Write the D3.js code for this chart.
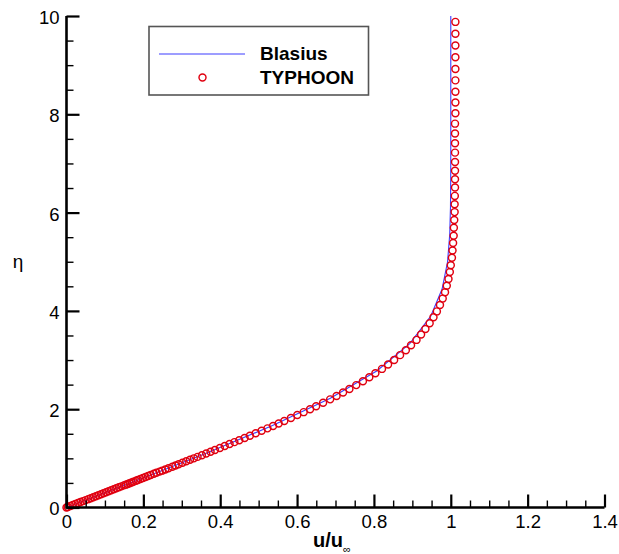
<!DOCTYPE html>
<html>
<head>
<meta charset="utf-8">
<script src="https://cdn.jsdelivr.net/npm/d3@7"></script>
<style>
  html, body { margin: 0; padding: 0; background: #fff; }
  svg { display: block; }
</style>
</head>
<body>
<svg id="chart" width="619" height="554"></svg>
<script>
// ---- data ----
const xTicks = [0, 0.2, 0.4, 0.6, 0.8, 1, 1.2, 1.4];
const xTickLabels = ["0", "0.2", "0.4", "0.6", "0.8", "1", "1.2", "1.4"];
const yTicks = [0, 2, 4, 6, 8, 10];
const yTickLabels = ["0", "2", "4", "6", "8", "10"];

// Blasius reference solution (u/u_inf vs eta)
const blasiusEta = [0, 0.5556, 1.1111, 1.6667, 2.2222, 2.7778, 3.3333, 3.8889, 4.4444, 5.0,
  5.5556, 6.1111, 6.6667, 7.2222, 7.7778, 8.3333, 8.8889, 9.4444, 10];
const blasiusU = [0, 0.1843, 0.3653, 0.5361, 0.6866, 0.8072, 0.8932, 0.9475, 0.9774, 0.9916,
  0.9972, 0.9992, 0.9998, 1.0, 1.0, 1.0, 1.0, 1.0, 1.0];

// TYPHOON solution points
const typhoonEta = [9.88, 9.64, 9.40, 9.16, 8.92, 8.69, 8.46, 8.24, 8.02, 7.81,
  7.61, 7.41, 7.22, 7.03, 6.85, 6.68, 6.51, 6.34, 6.17, 6.01,
  5.85, 5.69, 5.53, 5.38, 5.23, 5.08, 4.93, 4.79, 4.65, 4.51,
  4.38, 4.25, 4.12, 3.99, 3.87, 3.75, 3.63, 3.52, 3.41, 3.30,
  3.20, 3.10, 3.00, 2.91, 2.82, 2.73, 2.65, 2.57, 2.49, 2.41,
  2.34, 2.27, 2.20, 2.13, 2.06, 2.00, 1.94, 1.88, 1.82, 1.76,
  1.71, 1.66, 1.61, 1.56, 1.51, 1.46, 1.415, 1.37, 1.33, 1.29,
  1.25, 1.21, 1.17, 1.135, 1.10, 1.065, 1.03, 1.00, 0.97, 0.94,
  0.91, 0.88, 0.855, 0.83, 0.80, 0.775, 0.75, 0.73, 0.705, 0.685,
  0.66, 0.64, 0.62, 0.60, 0.58, 0.56, 0.545, 0.525, 0.51, 0.495,
  0.48, 0.465, 0.45, 0.43, 0.41, 0.39, 0.37, 0.35, 0.33, 0.31,
  0.29, 0.27, 0.25, 0.23, 0.21, 0.19, 0.17, 0.15, 0.13, 0.11,
  0.09, 0.07, 0.05, 0.03, 0.01, 0.0];
const typhoonU = [1.012, 1.012, 1.012, 1.012, 1.012, 1.012, 1.012, 1.012, 1.012, 1.011,
  1.011, 1.011, 1.011, 1.011, 1.011, 1.011, 1.011, 1.0105, 1.010, 1.010,
  1.009, 1.008, 1.0075, 1.006, 1.0045, 1.003, 1.000, 0.9975, 0.994, 0.9896,
  0.985, 0.979, 0.9719, 0.9638, 0.955, 0.945, 0.934, 0.9227, 0.9108, 0.8966,
  0.8831, 0.8680, 0.8526, 0.8368, 0.8210, 0.8038, 0.7880, 0.7714, 0.7540, 0.7362,
  0.7197, 0.7028, 0.6861, 0.6678, 0.6496, 0.6338, 0.6172, 0.6006, 0.5840, 0.5667,
  0.5521, 0.5375, 0.5229, 0.5077, 0.4924, 0.4772, 0.4635, 0.4495, 0.4369, 0.4243,
  0.4117, 0.3991, 0.3862, 0.3749, 0.3636, 0.3523, 0.3410, 0.3313, 0.3214, 0.3116,
  0.3017, 0.2918, 0.2836, 0.2754, 0.2655, 0.2572, 0.2489, 0.2422, 0.2339, 0.2272,
  0.2190, 0.2123, 0.2057, 0.1990, 0.1923, 0.1857, 0.1808, 0.1741, 0.1692, 0.1642,
  0.1593, 0.1543, 0.1493, 0.1427, 0.1361, 0.1295, 0.1229, 0.1162, 0.1096, 0.1029,
  0.0963, 0.0897, 0.0830, 0.0764, 0.0697, 0.0631, 0.0565, 0.0498, 0.0432, 0.0365,
  0.0299, 0.0232, 0.0166, 0.0100, 0.0033, 0.0];

const legendLabels = ["Blasius", "TYPHOON"];

// ---- drawing ----
const svg = d3.select("#chart");
const x = d3.scaleLinear().domain([0, 1.4]).range([66.5, 604.5]);
const y = d3.scaleLinear().domain([0, 10]).range([507.5, 16]);

const blueCol = "#3c3cff";
const redCol = "#e00010";
const fontFam = "'Liberation Sans', Arial, Helvetica, sans-serif";

// Blasius line
const blasius = blasiusEta.map((e, i) => ({ eta: e, u: blasiusU[i] }));
svg.append("path")
  .datum(blasius)
  .attr("fill", "none")
  .attr("stroke", blueCol)
  .attr("stroke-width", 1.1)
  .attr("d", d3.line().x(d => x(d.u)).y(d => y(d.eta)));

// TYPHOON circles
const typhoon = typhoonEta.map((e, i) => ({ eta: e, u: typhoonU[i] }));
svg.append("g").selectAll("circle")
  .data(typhoon)
  .join("circle")
  .attr("cx", d => x(d.u))
  .attr("cy", d => y(d.eta))
  .attr("r", 3.5)
  .attr("fill", "none")
  .attr("stroke", redCol)
  .attr("stroke-width", 1.45);

// Axes: minor ticks
const xMinor = d3.range(0, 1.4001, 0.05).filter(v => Math.abs(v / 0.2 - Math.round(v / 0.2)) > 1e-6);
const yMinor = d3.range(0, 10.001, 0.5).filter(v => Math.abs(v / 2 - Math.round(v / 2)) > 1e-6);

const gxMinor = svg.append("g").attr("transform", `translate(0,${y(0)})`)
  .call(d3.axisBottom(x).tickValues(xMinor).tickSize(-7).tickFormat(""));
const gyMinor = svg.append("g").attr("transform", `translate(${x(0)},0)`)
  .call(d3.axisLeft(y).tickValues(yMinor).tickSize(-7).tickFormat(""));
[gxMinor, gyMinor].forEach(g => {
  g.select(".domain").remove();
  g.selectAll(".tick line").attr("stroke", "#000").attr("stroke-width", 1.4);
});

// Major ticks with labels
const gx = svg.append("g").attr("transform", `translate(0,${y(0)})`)
  .call(d3.axisBottom(x).tickValues(xTicks).tickSize(-13).tickPadding(6)
    .tickFormat((d, i) => xTickLabels[i]));
const gy = svg.append("g").attr("transform", `translate(${x(0)},0)`)
  .call(d3.axisLeft(y).tickValues(yTicks).tickSize(-13).tickPadding(7)
    .tickFormat((d, i) => yTickLabels[i]));
[gx, gy].forEach(g => {
  g.select(".domain").remove();
  g.selectAll(".tick line").attr("stroke", "#000").attr("stroke-width", 2.2);
  g.selectAll(".tick text")
    .attr("fill", "#000")
    .style("font-family", fontFam)
    .style("font-size", "18.5px");
});
gx.selectAll(".tick text").attr("y", 7).attr("dy", "0.71em");
gy.selectAll(".tick text").attr("x", -7).attr("dy", "0.4em");

// Axis lines
svg.append("line").attr("x1", x(0)).attr("x2", x(1.4)).attr("y1", y(0)).attr("y2", y(0))
  .attr("stroke", "#000").attr("stroke-width", 2.6);
svg.append("line").attr("x1", x(0)).attr("x2", x(0)).attr("y1", y(0) + 1.3).attr("y2", y(10))
  .attr("stroke", "#000").attr("stroke-width", 2.6);

// Axis titles
const xt = svg.append("text")
  .attr("x", 313).attr("y", 547)
  .style("font-family", fontFam).style("font-weight", "bold").style("font-size", "20px")
  .attr("fill", "#000");
xt.append("tspan").text("u/u");
xt.append("tspan").attr("dy", 6).style("font-size", "11px").style("font-weight", "normal").text("∞");

svg.append("text")
  .attr("x", 18).attr("y", 268)
  .attr("text-anchor", "middle")
  .style("font-family", fontFam).style("font-size", "19px")
  .attr("fill", "#000")
  .text("η");

// Legend
const lg = svg.append("g");
lg.append("rect").attr("x", 149).attr("y", 26.5).attr("width", 219.5).attr("height", 68.5)
  .attr("fill", "#fff").attr("stroke", "#555").attr("stroke-width", 1.6);
lg.append("line").attr("x1", 159).attr("x2", 245).attr("y1", 54).attr("y2", 54)
  .attr("stroke", blueCol).attr("stroke-width", 1.1);
lg.append("circle").attr("cx", 202.5).attr("cy", 77.5).attr("r", 3.5)
  .attr("fill", "none").attr("stroke", redCol).attr("stroke-width", 1.45);
lg.selectAll("text.lab").data(legendLabels).join("text")
  .attr("class", "lab")
  .attr("x", 260).attr("y", (d, i) => 60 + i * 23.5)
  .style("font-family", fontFam).style("font-weight", "bold").style("font-size", "19px")
  .attr("fill", "#000")
  .text(d => d);
</script>
</body>
</html>
